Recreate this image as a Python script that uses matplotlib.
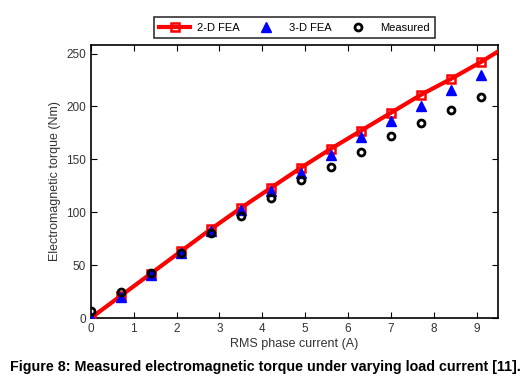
import matplotlib
matplotlib.use('Agg')
import matplotlib.pyplot as plt

# RMS phase current (A)
current = [0, 0.7, 1.4, 2.1, 2.8, 3.5, 4.2, 4.9, 5.6, 6.3, 7.0, 7.7, 8.4, 9.1]
# torque (Nm)
torque_2d = [0, 21, 42, 63, 84, 104, 123, 142, 160, 177, 194, 211, 226, 242]
torque_3d = [0, 20, 41, 61, 82, 102, 120, 137, 154, 171, 186, 200, 216, 230]
torque_meas = [7, 25, 43, 61, 80, 96, 113, 130, 143, 157, 172, 184, 197, 209]
# 2-D FEA trend line runs on to the edge of the axes
line_x = current + [9.5]
line_y = torque_2d + [252]

x_ticks = list(range(10))
y_ticks = [0, 50, 100, 150, 200, 250]

plt.rcParams['font.family'] = ['Liberation Sans', 'DejaVu Sans']

fig = plt.figure(figsize=(5.31, 3.82), dpi=100)
ax = fig.add_axes([0.171, 0.1675, 0.767, 0.7145])

ax.plot(line_x, line_y, color='#ff0000', lw=3, marker='s', ms=6,
        mfc='none', mec='#ff0000', mew=1.8, markevery=list(range(len(current))),
        label='2-D FEA', zorder=3)
ax.plot(current, torque_3d, ls='none', marker='^', ms=6.5, color='#0000ff',
        label='3-D FEA', zorder=4)
ax.plot(current, torque_meas, ls='none', marker='o', ms=5, mfc='none',
        mec='black', mew=2, label='Measured', zorder=5)

ax.set_xlim(0, 9.5)
ax.set_ylim(0, 258)
ax.set_xticks(x_ticks)
ax.set_yticks(y_ticks)
ax.tick_params(direction='in', top=True, right=True, length=4, labelsize=8.5,
               colors='black', labelcolor='#333333')
for s in ax.spines.values():
    s.set_linewidth(1.2)

ax.set_xlabel('RMS phase current (A)', fontsize=9, color='#333333', labelpad=2)
ax.set_ylabel('Electromagnetic torque (Nm)', fontsize=9, color='#333333', labelpad=4)

leg = ax.legend(loc='lower center', bbox_to_anchor=(0.5, 1.005), ncol=3,
                fontsize=8, frameon=True, fancybox=False, edgecolor='black',
                handlelength=2.8, columnspacing=1.0, borderpad=0.5,
                handletextpad=0.6)
leg.get_frame().set_linewidth(1.2)

fig.text(0.5, 0.04, 'Figure 8: Measured electromagnetic torque under varying load current [11].',
         ha='center', va='center', fontsize=10.3, fontweight='bold')

fig.savefig('out.png', dpi=100)
